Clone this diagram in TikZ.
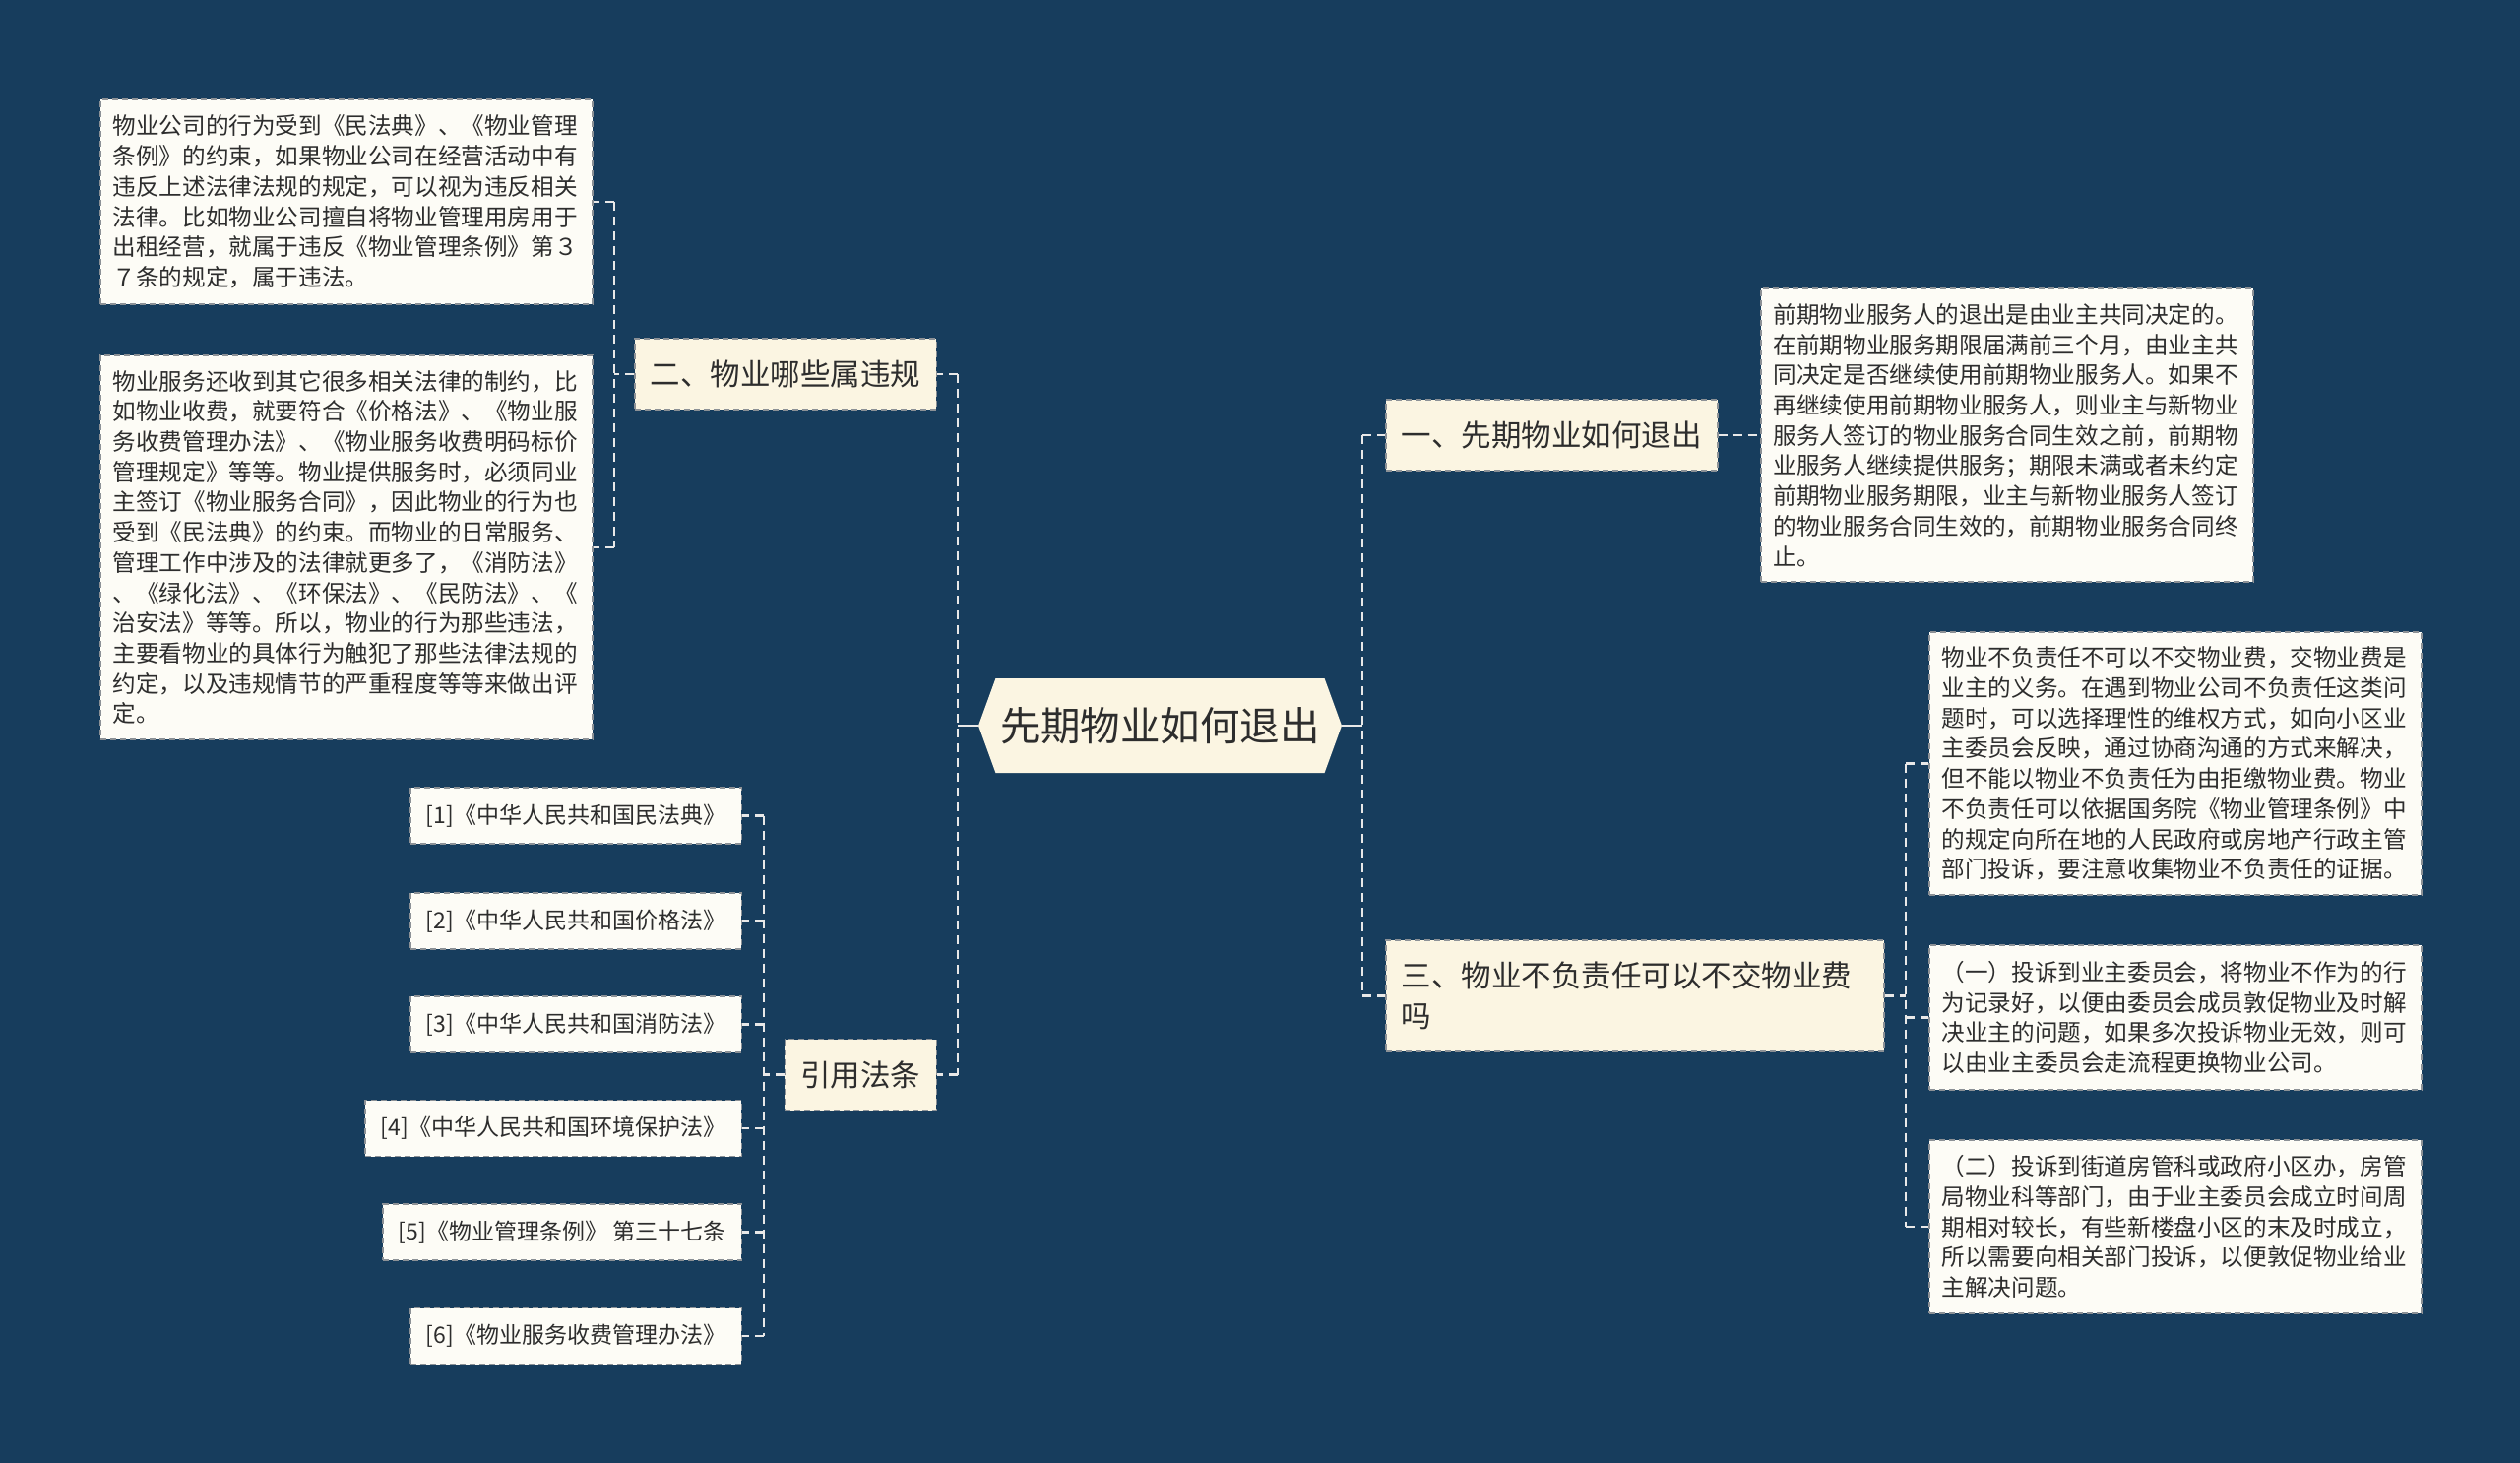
\documentclass[tikz,border=0pt]{standalone}
\usepackage{fontspec}
\newfontfamily\cjk{Noto Sans CJK SC}
\usetikzlibrary{shapes.symbols}
\definecolor{bgc}{RGB}{23,61,93}
\definecolor{brfill}{RGB}{251,245,226}
\definecolor{leaffill}{RGB}{253,252,246}
\definecolor{bord}{RGB}{140,145,150}
\definecolor{txt}{RGB}{45,45,45}
\definecolor{conn}{RGB}{232,232,232}
\begin{document}
\begin{tikzpicture}[x=1pt,y=-1pt,
 leafbox/.style={draw=bord, line width=1.5pt, dash pattern=on 6pt off 4pt, fill=leaffill, text=txt,
   font=\cjk\fontsize{23.6}{30.7}\selectfont, align=left, text width=474pt, inner xsep=13pt, inner ysep=8pt, anchor=west},
 refbox/.style={draw=bord, line width=1.5pt, dash pattern=on 6pt off 4pt, fill=leaffill, text=txt,
   font=\cjk\fontsize{23}{30}\selectfont, inner xsep=16pt, inner ysep=4pt, minimum height=57pt, anchor=east},
 branch/.style={draw=bord, line width=1.5pt, dash pattern=on 6pt off 4pt, fill=brfill, text=txt,
   font=\cjk\fontsize{30.5}{41}\selectfont, inner xsep=16pt, inner ysep=4pt, minimum height=72pt},
 conline/.style={draw=conn, line width=2.5pt, dash pattern=on 9pt off 6pt},
 stub/.style={draw=conn, line width=2.5pt},
]
\fill[bgc] (0,0) rectangle (2560,1486);
\useasboundingbox (0,0) rectangle (2560,1486);

% central node
\node[shape=signal, signal to=east and west, signal pointer angle=140, fill=brfill, text=txt,
  font=\cjk\fontsize{40.5}{48}\selectfont, minimum width=369pt, minimum height=96pt, inner sep=0pt]
  (c) at (1178.5,737) {先期物业如何退出};

% branch nodes
\node[branch, anchor=east] (n2) at (952,380) {二、物业哪些属违规};
\node[branch, anchor=east] (n4) at (952,1091.5) {引用法条};
\node[branch, anchor=west] (n1) at (1407,442) {一、先期物业如何退出};
\node[branch, anchor=west, align=left, text width=474pt, minimum height=113pt] (n3) at (1407,1011.5)
  {三、物业不负责任可以不交物业费\\吗};

% leaf boxes
\node[leafbox, minimum height=208pt] (la) at (101,205) {物业公司的行为受到《民法典》、《物业管理\\条例》的约束，如果物业公司在经营活动中有\\违反上述法律法规的规定，可以视为违反相关\\法律。比如物业公司擅自将物业管理用房用于\\出租经营，就属于违反《物业管理条例》第３\\７条的规定，属于违法。};
\node[leafbox, minimum height=390pt] (lb) at (101,556) {物业服务还收到其它很多相关法律的制约，比\\如物业收费，就要符合《价格法》、《物业服\\务收费管理办法》、《物业服务收费明码标价\\管理规定》等等。物业提供服务时，必须同业\\主签订《物业服务合同》，因此物业的行为也\\受到《民法典》的约束。而物业的日常服务、\\管理工作中涉及的法律就更多了，《消防法》\\、《绿化法》、《环保法》、《民防法》、《\\治安法》等等。所以，物业的行为那些违法，\\主要看物业的具体行为触犯了那些法律法规的\\约定，以及违规情节的严重程度等等来做出评\\定。};
\node[leafbox, minimum height=298pt] (lc) at (1788,442) {前期物业服务人的退出是由业主共同决定的。\\在前期物业服务期限届满前三个月，由业主共\\同决定是否继续使用前期物业服务人。如果不\\再继续使用前期物业服务人，则业主与新物业\\服务人签订的物业服务合同生效之前，前期物\\业服务人继续提供服务；期限未满或者未约定\\前期物业服务期限，业主与新物业服务人签订\\的物业服务合同生效的，前期物业服务合同终\\止。};
\node[leafbox, minimum height=267pt] (ld) at (1959,775.5) {物业不负责任不可以不交物业费，交物业费是\\业主的义务。在遇到物业公司不负责任这类问\\题时，可以选择理性的维权方式，如向小区业\\主委员会反映，通过协商沟通的方式来解决，\\但不能以物业不负责任为由拒缴物业费。物业\\不负责任可以依据国务院《物业管理条例》中\\的规定向所在地的人民政府或房地产行政主管\\部门投诉，要注意收集物业不负责任的证据。};
\node[leafbox, minimum height=147pt] (le) at (1959,1033.5) {（一）投诉到业主委员会，将物业不作为的行\\为记录好，以便由委员会成员敦促物业及时解\\决业主的问题，如果多次投诉物业无效，则可\\以由业主委员会走流程更换物业公司。};
\node[leafbox, minimum height=176pt] (lf) at (1959,1246) {（二）投诉到街道房管科或政府小区办，房管\\局物业科等部门，由于业主委员会成立时间周\\期相对较长，有些新楼盘小区的末及时成立，\\所以需要向相关部门投诉，以便敦促物业给业\\主解决问题。};

% references
\node[refbox] (r1) at (754,828.5) {[1]《中华人民共和国民法典》};
\node[refbox] (r2) at (754,935.5) {[2]《中华人民共和国价格法》};
\node[refbox] (r3) at (754,1040.5) {[3]《中华人民共和国消防法》};
\node[refbox] (r4) at (754,1146) {[4]《中华人民共和国环境保护法》};
\node[refbox] (r5) at (754,1251.5) {[5]《物业管理条例》 第三十七条};
\node[refbox] (r6) at (754,1357) {[6]《物业服务收费管理办法》};

% connectors right of centre
\coordinate (rv) at (1384,737);
\draw[stub] (c.east) -- (rv);
\draw[conline] (rv |- n1.west) -- (rv |- n3.west);
\draw[conline] (rv |- n1.west) -- (n1.west);
\draw[conline] (rv |- n3.west) -- (n3.west);
\draw[conline] (n1.east) -- (lc.west);

% connectors left of centre
\coordinate (lv) at (973,737);
\draw[stub] (c.west) -- (lv);
\draw[conline] (lv |- n2.east) -- (lv |- n4.east);
\draw[conline] (lv |- n2.east) -- (n2.east);
\draw[conline] (lv |- n4.east) -- (n4.east);

% n2 children
\coordinate (av) at (624,380);
\draw[conline] (n2.west) -- (av);
\draw[conline] (av |- la.east) -- (av |- lb.east);
\draw[conline] (av |- la.east) -- (la.east);
\draw[conline] (av |- lb.east) -- (lb.east);

% n4 children
\coordinate (bv) at (776,1091.5);
\draw[conline] (n4.west) -- (bv);
\draw[conline] (bv |- r1.east) -- (bv |- r6.east);
\foreach \r in {r1,r2,r3,r4,r5,r6} { \draw[conline] (bv |- \r.east) -- (\r.east); }

% n3 children
\coordinate (dv) at (1936,1011.5);
\draw[conline] (n3.east) -- (dv);
\draw[conline] (dv |- ld.west) -- (dv |- lf.west);
\draw[conline] (dv |- ld.west) -- (ld.west);
\draw[conline] (dv |- le.west) -- (le.west);
\draw[conline] (dv |- lf.west) -- (lf.west);
\end{tikzpicture}
\end{document}
